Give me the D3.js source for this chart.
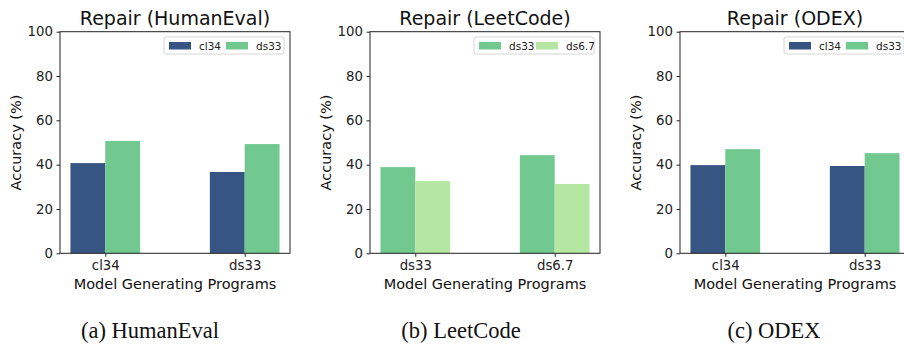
<!DOCTYPE html>
<html>
<head>
<meta charset="utf-8">
<script src="https://cdn.jsdelivr.net/npm/d3@7"></script>
<style>
  body { margin: 0; background: #fff; }
  svg { display: block; }
</style>
</head>
<body>
<div id="chart"></div>
<script>
// values
var heCategories = ["cl34", "ds33"],
    heSeries = ["cl34", "ds33"],
    heValues = [[40.7, 50.7], [36.7, 49.3]];

var lcCategories = ["ds33", "ds6.7"],
    lcSeries = ["ds33", "ds6.7"],
    lcValues = [[38.9, 32.6], [44.3, 31.3]];

var odCategories = ["cl34", "ds33"],
    odSeries = ["cl34", "ds33"],
    odValues = [[39.8, 47.0], [39.4, 45.2]];

var yTicks = [0, 20, 40, 60, 80, 100];
var titles = ["Repair (HumanEval)", "Repair (LeetCode)", "Repair (ODEX)"];
var captions = ["(a) HumanEval", "(b) LeetCode", "(c) ODEX"];

var colors = { "cl34": "#375583", "ds33": "#72c990", "ds6.7": "#b5e6a2" };

var width = 904, height = 346,
    axTop = 31.7, axBottom = 253.3, axWidth = 230;

var svg = d3.select("#chart").append("svg")
    .attr("width", width)
    .attr("height", height);

var font = "DejaVu Sans, sans-serif";

function drawPanel(left, cats, series, values, title, caption, capX) {
    var g = svg.append("g");

    // bar width 0.25, groups at 0 and 1, matplotlib 5% margins
    var x = d3.scaleLinear().domain([-0.325, 1.325]).range([left, left + axWidth]);
    var y = d3.scaleLinear().domain([0, 100]).range([axBottom, axTop]);
    var bw = 0.25;

    values.forEach(function(row, i) {
        g.selectAll(null)
            .data(row).enter()
            .append("rect")
            .attr("x", function(d, j) { return x(i + (j - 1) * bw); })
            .attr("width", x(bw) - x(0))
            .attr("y", function(d) { return y(d); })
            .attr("height", function(d) { return y(0) - y(d); })
            .attr("fill", function(d, j) { return colors[series[j]]; });
    });

    // frame
    g.append("rect")
        .attr("x", left).attr("y", axTop)
        .attr("width", axWidth).attr("height", axBottom - axTop)
        .attr("fill", "none").attr("stroke", "#222").attr("stroke-width", 1);

    var yAxis = g.append("g")
        .attr("transform", "translate(" + left + ",0)")
        .call(d3.axisLeft(y).tickValues(yTicks).tickSize(3.5).tickPadding(3.5));
    var xAxis = g.append("g")
        .attr("transform", "translate(0," + axBottom + ")")
        .call(d3.axisBottom(x).tickValues([0, 1]).tickSize(3.5).tickPadding(3.5)
            .tickFormat(function(d) { return cats[d]; }));

    [yAxis, xAxis].forEach(function(a) {
        a.select(".domain").remove();
        a.selectAll("line").attr("stroke", "#222");
        a.selectAll("text").attr("font-family", font).attr("font-size", 13.3).attr("fill", "#222");
    });

    g.append("text")
        .attr("x", left + axWidth / 2).attr("y", 25)
        .attr("text-anchor", "middle")
        .attr("font-family", font).attr("font-size", 19).attr("fill", "#111")
        .text(title);

    g.append("text")
        .attr("transform", "translate(" + (left - 39) + "," + ((axTop + axBottom) / 2) + ") rotate(-90)")
        .attr("text-anchor", "middle")
        .attr("font-family", font).attr("font-size", 14.5).attr("fill", "#111")
        .text("Accuracy (%)");

    g.append("text")
        .attr("x", left + axWidth / 2).attr("y", 289)
        .attr("text-anchor", "middle")
        .attr("font-family", font).attr("font-size", 14.5).attr("fill", "#111")
        .text("Model Generating Programs");

    // legend, upper right
    var lg = g.append("g").attr("transform", "translate(" + (left + axWidth - 126) + ",37)");
    lg.append("rect")
        .attr("width", 120).attr("height", 17).attr("rx", 2)
        .attr("fill", "#fff").attr("stroke", "#ccc").attr("stroke-width", 0.8);
    series.forEach(function(s, j) {
        lg.append("rect")
            .attr("x", 5 + j * 57).attr("y", 5)
            .attr("width", 22).attr("height", 7.5)
            .attr("fill", colors[s]);
        lg.append("text")
            .attr("x", 35 + j * 57).attr("y", 12.5)
            .attr("font-family", font).attr("font-size", 10.5).attr("fill", "#222")
            .text(s);
    });

    svg.append("text")
        .attr("x", capX).attr("y", 338)
        .attr("text-anchor", "middle")
        .attr("font-family", "Liberation Serif, Times New Roman, serif")
        .attr("font-size", 22.5).attr("fill", "#111")
        .text(caption);
}

drawPanel(60, heCategories, heSeries, heValues, titles[0], captions[0], 150);
drawPanel(370, lcCategories, lcSeries, lcValues, titles[1], captions[1], 461);
drawPanel(680, odCategories, odSeries, odValues, titles[2], captions[2], 774);
</script>
</body>
</html>
